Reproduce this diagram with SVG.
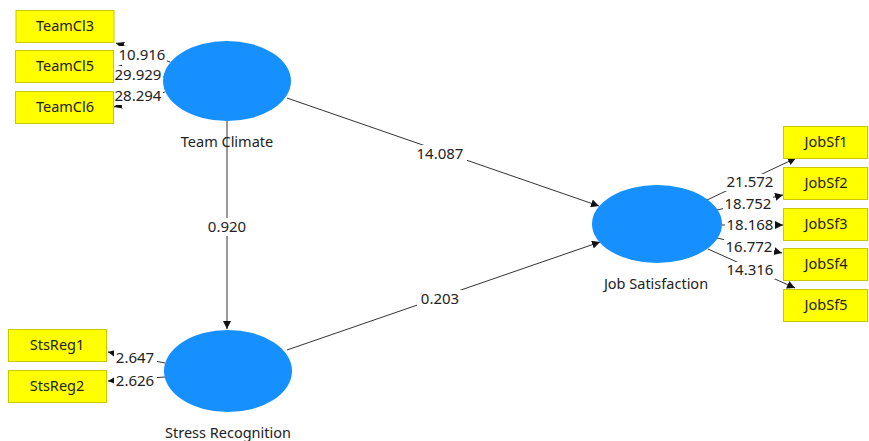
<svg xmlns="http://www.w3.org/2000/svg" width="869" height="441" viewBox="0 0 869 441">
<defs>
<marker id="ah" markerUnits="userSpaceOnUse" markerWidth="9" markerHeight="8" refX="8" refY="4" orient="auto">
<path d="M0,0 L8,4 L0,8 z" fill="#111"/>
</marker>
<style>
.lv{fill:#1690FF}
.ind rect{fill:#FFFF00;stroke:#C9C900;stroke-width:1}
.t{font-family:"Noto Sans","Open Sans",sans-serif;font-size:14.5px;fill:#222;text-anchor:middle}
.n{font-size:15px}
.c line{stroke:#333;stroke-width:1;marker-end:url(#ah)}
.lb rect{fill:#fff}
</style>
</defs>
<rect width="869" height="441" fill="#fff"/>
<g id="connectors" class="c">
<line x1="227" y1="121" x2="227" y2="329"/>
<line x1="287" y1="98" x2="599" y2="206"/>
<line x1="287" y1="350" x2="600" y2="242"/>
<line x1="170" y1="62" x2="116" y2="43"/>
<line x1="164" y1="77" x2="114" y2="67"/>
<line x1="165" y1="92" x2="114" y2="107"/>
<line x1="165" y1="363" x2="108" y2="352"/>
<line x1="165" y1="377" x2="108" y2="381"/>
<line x1="707" y1="200" x2="796" y2="158"/>
<line x1="717" y1="210" x2="783" y2="195"/>
<line x1="722" y1="225" x2="783" y2="225"/>
<line x1="717" y1="238" x2="782" y2="253"/>
<line x1="708" y1="249" x2="795" y2="288"/>
</g>
<g id="labels" class="lb">
<rect x="117" y="46" width="50" height="17"/><text class="t n" x="142" y="60">10.916</text>
<rect x="113" y="66" width="50" height="17"/><text class="t n" x="138" y="80">29.929</text>
<rect x="113" y="88" width="50" height="17"/><text class="t n" x="138" y="101">28.294</text>
<rect x="114" y="350" width="43" height="17"/><text class="t n" x="135" y="363">2.647</text>
<rect x="114" y="373" width="43" height="17"/><text class="t n" x="135" y="386">2.626</text>
<rect x="204" y="218" width="46" height="18"/><text class="t n" x="227" y="232">0.920</text>
<rect x="413" y="145" width="54" height="18"/><text class="t n" x="440" y="159">14.087</text>
<rect x="417" y="290" width="46" height="18"/><text class="t n" x="440" y="304">0.203</text>
<rect x="725" y="174" width="50" height="17"/><text class="t n" x="750" y="187">21.572</text>
<rect x="723" y="196" width="50" height="17"/><text class="t n" x="748" y="209">18.752</text>
<rect x="725" y="217" width="50" height="17"/><text class="t n" x="750" y="230">18.168</text>
<rect x="724" y="239" width="50" height="17"/><text class="t n" x="749" y="252">16.772</text>
<rect x="725" y="262" width="50" height="17"/><text class="t n" x="750" y="275">14.316</text>
</g>
<g id="team-climate"><ellipse class="lv" cx="227" cy="81" rx="64" ry="40"/><text class="t" x="227" y="147">Team Climate</text></g>
<g id="stress-recognition"><ellipse class="lv" cx="228" cy="371" rx="64" ry="41"/><text class="t" x="228" y="438">Stress Recognition</text></g>
<g id="job-satisfaction"><ellipse class="lv" cx="657" cy="224" rx="65" ry="39"/><text class="t" x="656" y="289">Job Satisfaction</text></g>
<g id="TeamCl3" class="ind"><rect x="16" y="10.5" width="98" height="32"/><text class="t" x="65" y="31">TeamCl3</text></g>
<g id="TeamCl5" class="ind"><rect x="15.5" y="50.5" width="98" height="32"/><text class="t" x="65" y="71">TeamCl5</text></g>
<g id="TeamCl6" class="ind"><rect x="15.5" y="91.5" width="98" height="32"/><text class="t" x="65" y="112">TeamCl6</text></g>
<g id="StsReg1" class="ind"><rect x="8.5" y="329.5" width="98" height="32"/><text class="t" x="57" y="350">StsReg1</text></g>
<g id="StsReg2" class="ind"><rect x="8.5" y="370.5" width="98" height="32"/><text class="t" x="57" y="391">StsReg2</text></g>
<g id="JobSf1" class="ind"><rect x="783.5" y="126.5" width="84" height="32"/><text class="t" x="826" y="147">JobSf1</text></g>
<g id="JobSf2" class="ind"><rect x="783.5" y="167.5" width="84" height="32"/><text class="t" x="826" y="188">JobSf2</text></g>
<g id="JobSf3" class="ind"><rect x="783.5" y="208.5" width="84" height="32"/><text class="t" x="826" y="229">JobSf3</text></g>
<g id="JobSf4" class="ind"><rect x="783.5" y="248.5" width="84" height="32"/><text class="t" x="826" y="269">JobSf4</text></g>
<g id="JobSf5" class="ind"><rect x="783.5" y="289.5" width="84" height="32"/><text class="t" x="826" y="310">JobSf5</text></g>
</svg>
